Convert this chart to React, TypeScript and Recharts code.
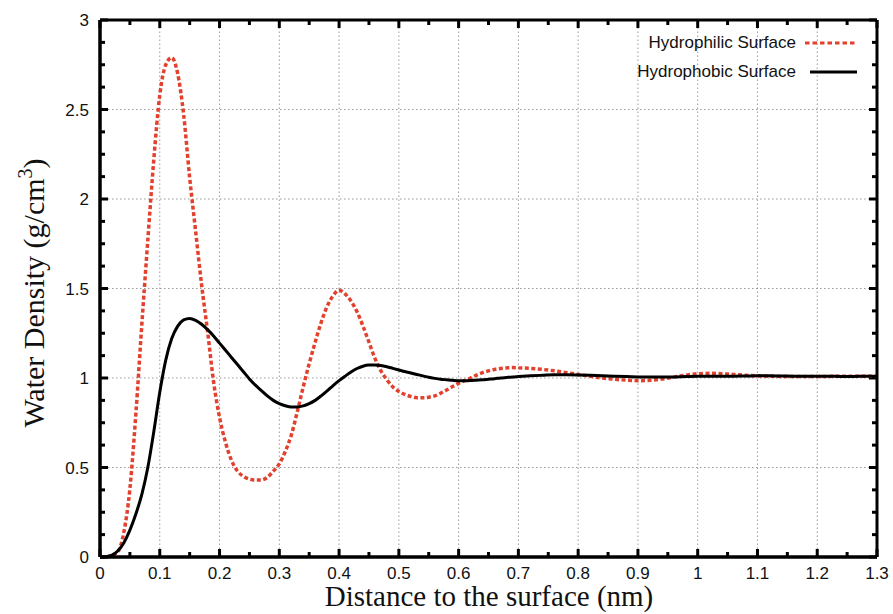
import React from 'react';
import { LineChart, Line, XAxis, YAxis, ReferenceLine } from 'recharts';

// distance to the surface (nm)
const distance = [
  0, 0.01, 0.02, 0.03, 0.04, 0.05, 0.06, 0.07, 0.08, 0.09,
  0.1, 0.11, 0.12, 0.13, 0.14, 0.15, 0.16, 0.17, 0.18, 0.19,
  0.2, 0.21, 0.22, 0.23, 0.24, 0.25, 0.26, 0.27, 0.28, 0.29,
  0.3, 0.31, 0.32, 0.33, 0.34, 0.35, 0.36, 0.37, 0.38, 0.39,
  0.4, 0.41, 0.42, 0.43, 0.44, 0.45, 0.46, 0.47, 0.48, 0.49,
  0.5, 0.51, 0.52, 0.53, 0.54, 0.55, 0.56, 0.57, 0.58, 0.59,
  0.6, 0.61, 0.62, 0.63, 0.64, 0.65, 0.66, 0.67, 0.68, 0.69,
  0.7, 0.72, 0.74, 0.76, 0.78, 0.8, 0.82, 0.84, 0.86, 0.88,
  0.9, 0.92, 0.94, 0.96, 0.98, 1.0, 1.02, 1.04, 1.06, 1.08,
  1.1, 1.12, 1.14, 1.16, 1.18, 1.2, 1.22, 1.24, 1.26, 1.28, 1.3,
];

// water density (g/cm3)
const hydrophilic = [
  0, 0, 0.01, 0.03, 0.14, 0.38, 0.8, 1.3, 1.77, 2.22,
  2.58, 2.75, 2.79, 2.7, 2.47, 2.12, 1.82, 1.52, 1.26, 0.98,
  0.78, 0.64, 0.54, 0.48, 0.45, 0.435, 0.43, 0.43, 0.445, 0.48,
  0.52, 0.59, 0.68, 0.81, 0.95, 1.08, 1.2, 1.31, 1.4, 1.46,
  1.49, 1.47, 1.43, 1.37, 1.29, 1.2, 1.11, 1.04, 0.99, 0.95,
  0.925, 0.908, 0.897, 0.89, 0.89, 0.893, 0.9, 0.915, 0.933, 0.952,
  0.97, 0.985, 1.0, 1.016, 1.03, 1.04, 1.048, 1.053, 1.056, 1.058,
  1.057, 1.054, 1.048, 1.04, 1.03, 1.02, 1.01, 1.0, 0.993, 0.988,
  0.985, 0.987, 0.994, 1.005, 1.016, 1.024, 1.026, 1.024, 1.02, 1.015,
  1.012, 1.01, 1.009, 1.008, 1.008, 1.008, 1.009, 1.01, 1.01, 1.01, 1.01,
];

const hydrophobic = [
  0, 0.002, 0.01, 0.035, 0.08, 0.15, 0.24, 0.35, 0.5, 0.7,
  0.92, 1.1, 1.22, 1.29, 1.325, 1.333, 1.322, 1.3, 1.27, 1.235,
  1.195, 1.155, 1.115, 1.075, 1.035, 0.995, 0.96, 0.93, 0.9, 0.875,
  0.857, 0.845, 0.838, 0.838, 0.844, 0.857, 0.875, 0.9, 0.928, 0.958,
  0.985, 1.01, 1.034, 1.053, 1.066, 1.072, 1.073, 1.07, 1.063, 1.054,
  1.045, 1.036, 1.028, 1.02, 1.012, 1.004, 0.998, 0.993, 0.99, 0.987,
  0.985, 0.985, 0.986, 0.988, 0.99, 0.993, 0.996, 1.0, 1.003, 1.006,
  1.008, 1.012, 1.015, 1.018, 1.018, 1.017, 1.015, 1.012, 1.01, 1.008,
  1.006, 1.005, 1.005, 1.006, 1.008, 1.01, 1.01, 1.01, 1.01, 1.011,
  1.012, 1.012, 1.011, 1.01, 1.01, 1.01, 1.01, 1.009, 1.009, 1.01, 1.01,
];

const xTicks = [
  0, 0.05, 0.1, 0.15, 0.2, 0.25, 0.3, 0.35, 0.4, 0.45, 0.5, 0.55, 0.6, 0.65,
  0.7, 0.75, 0.8, 0.85, 0.9, 0.95, 1, 1.05, 1.1, 1.15, 1.2, 1.25, 1.3,
];
const xMajor = [0, 0.1, 0.2, 0.3, 0.4, 0.5, 0.6, 0.7, 0.8, 0.9, 1, 1.1, 1.2, 1.3];
const yTicks = [
  0, 0.125, 0.25, 0.375, 0.5, 0.625, 0.75, 0.875, 1, 1.125, 1.25, 1.375, 1.5,
  1.625, 1.75, 1.875, 2, 2.125, 2.25, 2.375, 2.5, 2.625, 2.75, 2.875, 3,
];
const yMajor = [0, 0.5, 1, 1.5, 2, 2.5, 3];

const data = distance.map((d, i) => ({ d, philic: hydrophilic[i], phobic: hydrophobic[i] }));

const RED = '#e2412d';
const SANS = '"Liberation Sans", Arial, sans-serif';
const SERIF = '"Liberation Serif", "Times New Roman", serif';

const isMajor = (v: number, list: number[]) => list.some(m => Math.abs(m - v) < 1e-6);

const XLabel = (props: any) => {
  const { x, y, payload } = props;
  if (!isMajor(payload.value, xMajor)) return <g />;
  return (
    <text x={x} y={y + 22} textAnchor="middle" fontSize={17} fontFamily={SANS} fill="#111">
      {String(payload.value)}
    </text>
  );
};

const YLabel = (props: any) => {
  const { x, y, payload } = props;
  if (!isMajor(payload.value, yMajor)) return <g />;
  return (
    <text x={x - 11} y={y + 6} textAnchor="end" fontSize={17} fontFamily={SANS} fill="#111">
      {String(payload.value)}
    </text>
  );
};

// inward tick marks at both ends of a reference line (gnuplot style, mirrored)
const vTick = (len: number) => (p: any) => {
  const bottom = Math.max(p.y1, p.y2);
  const top = Math.min(p.y1, p.y2);
  return (
    <g>
      <line x1={p.x1} x2={p.x1} y1={bottom} y2={bottom - len} stroke="#000" strokeWidth={3} />
      <line x1={p.x1} x2={p.x1} y1={top} y2={top + len} stroke="#000" strokeWidth={3} />
    </g>
  );
};

const hTick = (len: number) => (p: any) => {
  const left = Math.min(p.x1, p.x2);
  const right = Math.max(p.x1, p.x2);
  return (
    <g>
      <line x1={left} x2={left + len} y1={p.y1} y2={p.y1} stroke="#000" strokeWidth={3} />
      <line x1={right} x2={right - len} y1={p.y1} y2={p.y1} stroke="#000" strokeWidth={3} />
    </g>
  );
};

const XTitle = () => (
  <text x={489} y={606} textAnchor="middle" fontSize={29} fontFamily={SERIF} fill="#111">
    Distance to the surface (nm)
  </text>
);

const YTitle = () => (
  <text transform="translate(44,293) rotate(-90)" textAnchor="middle" fontSize={30} fontFamily={SERIF} fill="#111">
    Water Density (g/cm
    <tspan dy={-12} fontSize={20}>3</tspan>
    <tspan dy={12}>)</tspan>
  </text>
);

const gridStyle = { stroke: '#9a9a9a', strokeDasharray: '1.5 2.5', strokeWidth: 1 };
const frameStyle = { stroke: '#000', strokeWidth: 3 };

const App: React.FC = () => {
  return (
    <div style={{ position: 'absolute', left: 0, top: 0, width: 893, height: 614, background: '#fff' }}>
      <LineChart width={893} height={614} data={data} margin={{ top: 20, right: 16, bottom: 0, left: 0 }}>
        <XAxis
          dataKey="d"
          type="number"
          domain={[0, 1.3]}
          ticks={xTicks}
          interval={0}
          tickSize={0}
          tickMargin={0}
          tickLine={false}
          tick={<XLabel />}
          height={57}
          axisLine={{ stroke: '#000', strokeWidth: 3 }}
          label={{ content: <XTitle /> }}
        />
        <YAxis
          type="number"
          domain={[0, 3]}
          ticks={yTicks}
          interval={0}
          tickSize={0}
          tickMargin={0}
          tickLine={false}
          tick={<YLabel />}
          width={100}
          axisLine={{ stroke: '#000', strokeWidth: 3 }}
          label={{ content: <YTitle /> }}
        />
        {xMajor.map(v => (
          <ReferenceLine key={`gx${v}`} x={v} {...gridStyle} />
        ))}
        {yMajor.map(v => (
          <ReferenceLine key={`gy${v}`} y={v} {...gridStyle} />
        ))}
        {xTicks.map(v => (
          <ReferenceLine key={`tx${v}`} x={v} shape={vTick(isMajor(v, xMajor) ? 8 : 5)} />
        ))}
        {yTicks.map(v => (
          <ReferenceLine key={`ty${v}`} y={v} shape={hTick(isMajor(v, yMajor) ? 8 : 5)} />
        ))}
        <Line
          type="monotone"
          dataKey="philic"
          stroke={RED}
          strokeWidth={3.5}
          strokeDasharray="4 2.5"
          dot={false}
          isAnimationActive={false}
        />
        <Line
          type="monotone"
          dataKey="phobic"
          stroke="#000"
          strokeWidth={3}
          dot={false}
          isAnimationActive={false}
        />
        <ReferenceLine x={0} {...frameStyle} />
        <ReferenceLine x={1.3} {...frameStyle} />
        <ReferenceLine y={0} {...frameStyle} />
        <ReferenceLine y={3} {...frameStyle} />
      </LineChart>

      {/* legend, top right inside the frame */}
      <div style={{ position: 'absolute', top: 32, right: 36, fontFamily: SANS, fontSize: 17, color: '#111' }}>
        <div style={{ display: 'flex', alignItems: 'center', justifyContent: 'flex-end', height: 22 }}>
          <span>Hydrophilic Surface</span>
          <svg width={61} height={10}>
            <line x1={9} x2={61} y1={5} y2={5} stroke={RED} strokeWidth={3} strokeDasharray="4.5 3" />
          </svg>
        </div>
        <div style={{ display: 'flex', alignItems: 'center', justifyContent: 'flex-end', height: 22, marginTop: 7 }}>
          <span>Hydrophobic Surface</span>
          <svg width={61} height={10}>
            <line x1={14} x2={61} y1={5} y2={5} stroke="#000" strokeWidth={3} />
          </svg>
        </div>
      </div>
    </div>
  );
};

export default App;
